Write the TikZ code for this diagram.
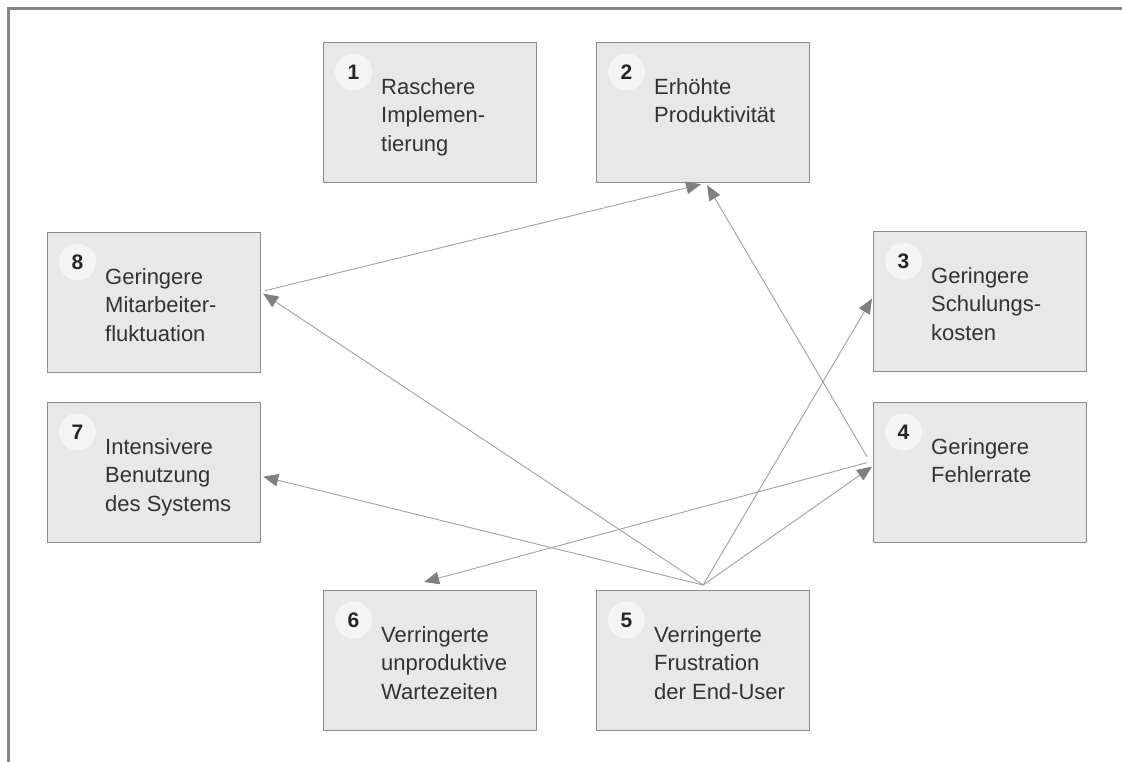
\documentclass[tikz,border=0pt]{standalone}
\usepackage{fontspec}
\setmainfont{Liberation Sans}
\usetikzlibrary{arrows.meta}
\definecolor{framegray}{HTML}{858585}
\definecolor{boxfill}{HTML}{E8E8E8}
\definecolor{boxline}{HTML}{8C8C8C}
\definecolor{discfill}{HTML}{F4F4F4}
\definecolor{txtgray}{HTML}{333333}
\definecolor{linkgray}{HTML}{A0A0A0}
\definecolor{tipgray}{HTML}{808080}
\tikzset{
  benefit/.style={rectangle, draw=boxline, fill=boxfill, line width=1.2pt,
    minimum width=213pt, minimum height=140pt, anchor=north west, inner sep=0pt},
  disc/.style={circle, fill=discfill, minimum size=37pt, inner sep=0pt,
    font=\fontsize{21}{24}\selectfont\bfseries, text=black!85},
  caption/.style={anchor=base west, inner sep=0pt, text=txtgray,
    font=\fontsize{22}{28.5}\selectfont},
  link/.style={draw=linkgray, line width=0.9pt,
    -{Triangle[length=15pt,width=12.5pt,color=tipgray,fill=tipgray]}},
}
% a benefit box: name, top-left corner, number, lines of text
\newcommand\benefitbox[4]{%
  \node[benefit] (#1) at #2 {};
  \node[disc] (#1n) at ([xshift=30.5pt,yshift=-30pt]#1.north west) {#3};
  \node[caption] (#1t) at ([xshift=58pt,yshift=-52pt]#1.north west)
    {\vtop{\baselineskip=28.5pt #4}};
}
\begin{document}
\begin{tikzpicture}[x=1pt,y=-1pt]
\useasboundingbox (0,0) rectangle (1122,761);
% frame along the top and left
\draw[framegray, line width=3.5pt] (1125,8.5) -- (8.5,8.5) -- (8.5,765);

\benefitbox{b1}{(323,42)}{1}{\hbox{Raschere}\hbox{Implemen-}\hbox{tierung}}
\benefitbox{b2}{(596,42)}{2}{\hbox{Erhöhte}\hbox{Produktivität}}
\benefitbox{b3}{(873,231)}{3}{\hbox{Geringere}\hbox{Schulungs-}\hbox{kosten}}
\benefitbox{b4}{(873,402)}{4}{\hbox{Geringere}\hbox{Fehlerrate}}
\benefitbox{b5}{(596,590)}{5}{\hbox{Verringerte}\hbox{Frustration}\hbox{der End-User}}
\benefitbox{b6}{(323,590)}{6}{\hbox{Verringerte}\hbox{unproduktive}\hbox{Wartezeiten}}
\benefitbox{b7}{(47,402)}{7}{\hbox{Intensivere}\hbox{Benutzung}\hbox{des Systems}}
\benefitbox{b8}{(47,232)}{8}{\hbox{Geringere}\hbox{Mitarbeiter-}\hbox{fluktuation}}

% start points of the links
\coordinate (o5) at ([yshift=5pt]b5.north);
\coordinate (o4a) at ([xshift=-6pt,yshift=16pt]b4.west);
\coordinate (o4b) at ([xshift=-6pt,yshift=10pt]b4.west);
\coordinate (o8) at ([xshift=4pt,yshift=12pt]b8.east);

% links
\draw[link] (o5) -- ([xshift=2pt,yshift=9pt]b8.east);
\draw[link] (o5) -- ([xshift=2pt,yshift=-4pt]b7.east);
\draw[link] (o5) -- ([xshift=-1pt,yshift=3pt]b3.west);
\draw[link] (o5) -- ([xshift=-1pt,yshift=6pt]b4.west);
\draw[link] (o4b) -- ([xshift=-6pt,yshift=8pt]b6.north);
\draw[link] (o4a) -- ([xshift=4pt,yshift=-2pt]b2.south);
\draw[link] (o8) -- ([xshift=-2pt,yshift=-1pt]b2.south);
\end{tikzpicture}
\end{document}
